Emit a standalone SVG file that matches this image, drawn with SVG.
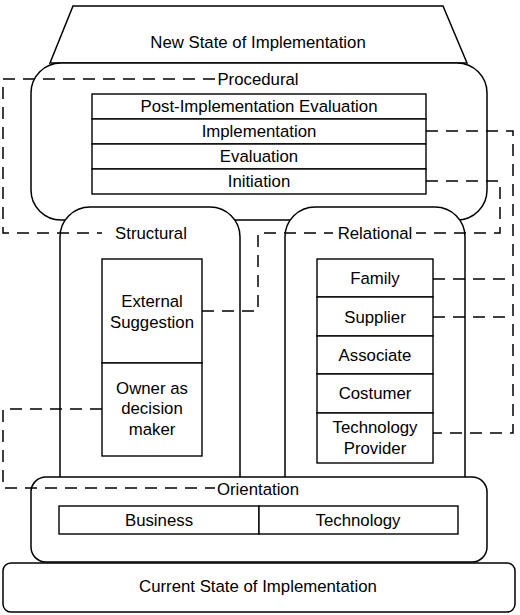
<svg xmlns="http://www.w3.org/2000/svg" width="520" height="615" viewBox="0 0 520 615">
<style>
.s{fill:#fff;stroke:#000;stroke-width:1.5}
.b{fill:#fff;stroke:#000;stroke-width:1.4}
.d{fill:none;stroke:#000;stroke-width:1.5;stroke-dasharray:12 8}
text{font-family:"Liberation Sans",Arial,sans-serif;font-size:16.8px;fill:#000;text-anchor:middle;dominant-baseline:central}
</style>
<rect width="520" height="615" fill="#fff"/>
<g id="new-state">
<polygon class="s" points="73,6 443,6 467,63 50,63"/>
<text x="258" y="42">New State of Implementation</text>
</g>
<g id="procedural">
<rect class="s" x="31" y="63" width="456" height="157" rx="30"/>
<text x="258" y="79">Procedural</text>
<rect class="b" x="92" y="94" width="334" height="25"/>
<rect class="b" x="92" y="119" width="334" height="25"/>
<rect class="b" x="92" y="144" width="334" height="25"/>
<rect class="b" x="92" y="169" width="334" height="25"/>
<text x="259" y="106">Post-Implementation Evaluation</text>
<text x="259" y="131">Implementation</text>
<text x="259" y="156">Evaluation</text>
<text x="259" y="181">Initiation</text>
</g>
<g id="structural">
<rect class="s" x="60" y="207" width="180" height="300" rx="30"/>
<text x="151" y="233">Structural</text>
<rect class="b" x="102" y="259" width="100" height="104"/>
<rect class="b" x="102" y="363" width="100" height="93"/>
<text x="152" y="301">External</text>
<text x="152" y="322">Suggestion</text>
<text x="152" y="388">Owner as</text>
<text x="152" y="408">decision</text>
<text x="152" y="429">maker</text>
</g>
<g id="relational">
<rect class="s" x="285" y="207" width="180" height="300" rx="30"/>
<text x="375" y="233">Relational</text>
<rect class="b" x="317" y="259" width="116" height="38"/>
<rect class="b" x="317" y="297" width="116" height="39"/>
<rect class="b" x="317" y="336" width="116" height="38"/>
<rect class="b" x="317" y="374" width="116" height="39"/>
<rect class="b" x="317" y="413" width="116" height="50"/>
<text x="375" y="278">Family</text>
<text x="375" y="317">Supplier</text>
<text x="375" y="355">Associate</text>
<text x="375" y="393">Costumer</text>
<text x="375" y="427">Technology</text>
<text x="375" y="448">Provider</text>
</g>
<g id="orientation">
<rect class="s" x="31" y="477" width="456" height="85" rx="15"/>
<text x="258" y="489">Orientation</text>
<rect class="b" x="59" y="506" width="200" height="28"/>
<rect class="b" x="259" y="506" width="199" height="28"/>
<text x="159" y="520">Business</text>
<text x="358" y="520">Technology</text>
</g>
<g id="current-state">
<rect class="s" x="3" y="563" width="512" height="49" rx="8"/>
<text x="258" y="586">Current State of Implementation</text>
</g>
<g id="connectors">
<polyline class="d" points="215,79 3,79 3,233 102,233"/>
<polyline class="d" points="426,131 513,131 513,433 433,433"/>
<polyline class="d" points="433,279 513,279"/>
<polyline class="d" points="433,317 513,317"/>
<polyline class="d" points="426,181 500,181 500,233 416,233"/>
<polyline class="d" points="202,311 258,311 258,233 333,233"/>
<polyline class="d" points="102,409 3,409 3,488 215,488"/>
</g>
</svg>
